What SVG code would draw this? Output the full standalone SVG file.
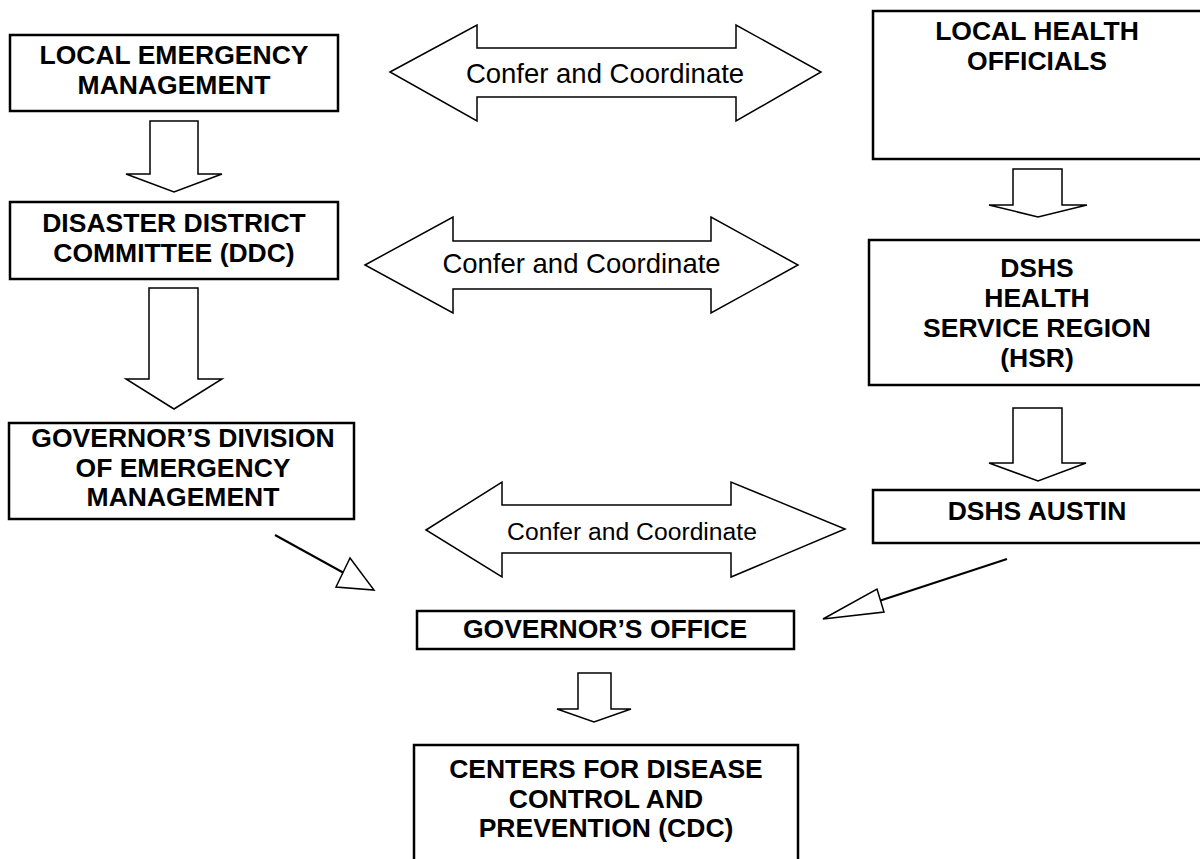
<svg xmlns="http://www.w3.org/2000/svg" width="1200" height="859" viewBox="0 0 1200 859">
<style>
.box{fill:#fff;stroke:#000;stroke-width:2.5}
.t{font-family:"Liberation Sans",Arial,sans-serif;font-weight:bold;font-size:26.5px;text-anchor:middle;fill:#000}
.c{font-family:"Liberation Sans",Arial,sans-serif;font-size:27.5px;text-anchor:middle;fill:#000}
.arr{fill:#fff;stroke:#000;stroke-width:1.5;stroke-linejoin:miter}
.ln{fill:none;stroke:#000;stroke-width:2}
</style>
<rect width="1200" height="859" fill="#fff"/>
<g id="connectors">
<polygon class="arr" points="150,121 198,121 198,174 222,174 174,192 126,174 150,174"/>
<polygon class="arr" points="149,288 198,288 198,379 222,379 174,409 126,379 149,379"/>
<polygon class="arr" points="1013,169 1062,169 1062,205 1087,205 1038,217 989,205 1013,205"/>
<polygon class="arr" points="1013,408 1062,408 1062,463 1086,463 1038,481 989,463 1013,463"/>
<polygon class="arr" points="578,673 611,673 611,709 631,709 594,722 557,709 578,709"/>
<g id="coord1">
<polygon class="arr" points="390,72 477,25 477,48 736,48 736,25 821,72 736,121 736,97 477,97 477,121"/>
<text class="c" x="605" y="83">Confer and Coordinate</text>
</g>
<g id="coord2">
<polygon class="arr" points="365,265 453,217 453,241 711,241 711,217 798,265 711,313 711,289 453,289 453,313"/>
<text class="c" x="581.5" y="273">Confer and Coordinate</text>
</g>
<g id="coord3">
<polygon class="arr" points="426,530 502,482 502,505 731,505 731,482 845,529 731,577 731,553 502,553 502,577"/>
<text class="c" x="632" y="540" style="font-size:24.7px">Confer and Coordinate</text>
</g>
<line class="ln" x1="275" y1="535" x2="343" y2="572.5"/>
<polygon class="arr" points="350,558 336,587 374,590"/>
<line class="ln" x1="1007" y1="559" x2="880.5" y2="600.5"/>
<polygon class="arr" points="877,589 884,612 823,619"/>
</g>
<g id="local-emergency">
<rect class="box" x="10" y="35" width="328" height="76"/>
<text class="t" x="174" y="64">LOCAL EMERGENCY</text>
<text class="t" x="174" y="94">MANAGEMENT</text>
</g>
<g id="ddc">
<rect class="box" x="10" y="202" width="328" height="77"/>
<text class="t" x="174" y="232">DISASTER DISTRICT</text>
<text class="t" x="174" y="262">COMMITTEE (DDC)</text>
</g>
<g id="gdem">
<rect class="box" x="9" y="423" width="345" height="96"/>
<text class="t" x="183" y="447">GOVERNOR’S DIVISION</text>
<text class="t" x="183" y="477">OF EMERGENCY</text>
<text class="t" x="183" y="506">MANAGEMENT</text>
</g>
<g id="local-health">
<rect class="box" x="873" y="11" width="330" height="148"/>
<text class="t" x="1037" y="40">LOCAL HEALTH</text>
<text class="t" x="1037" y="70">OFFICIALS</text>
</g>
<g id="hsr">
<rect class="box" x="869" y="240" width="334" height="145"/>
<text class="t" x="1037" y="277">DSHS</text>
<text class="t" x="1037" y="307">HEALTH</text>
<text class="t" x="1037" y="337">SERVICE REGION</text>
<text class="t" x="1037" y="367">(HSR)</text>
</g>
<g id="dshs-austin">
<rect class="box" x="873" y="490" width="330" height="53"/>
<text class="t" x="1037" y="520">DSHS AUSTIN</text>
</g>
<g id="governors-office">
<rect class="box" x="417" y="611" width="377" height="38"/>
<text class="t" x="605" y="638">GOVERNOR’S OFFICE</text>
</g>
<g id="cdc">
<rect class="box" x="414" y="745" width="384" height="120"/>
<text class="t" x="606" y="778">CENTERS FOR DISEASE</text>
<text class="t" x="606" y="808">CONTROL AND</text>
<text class="t" x="606" y="837">PREVENTION (CDC)</text>
</g>
</svg>
